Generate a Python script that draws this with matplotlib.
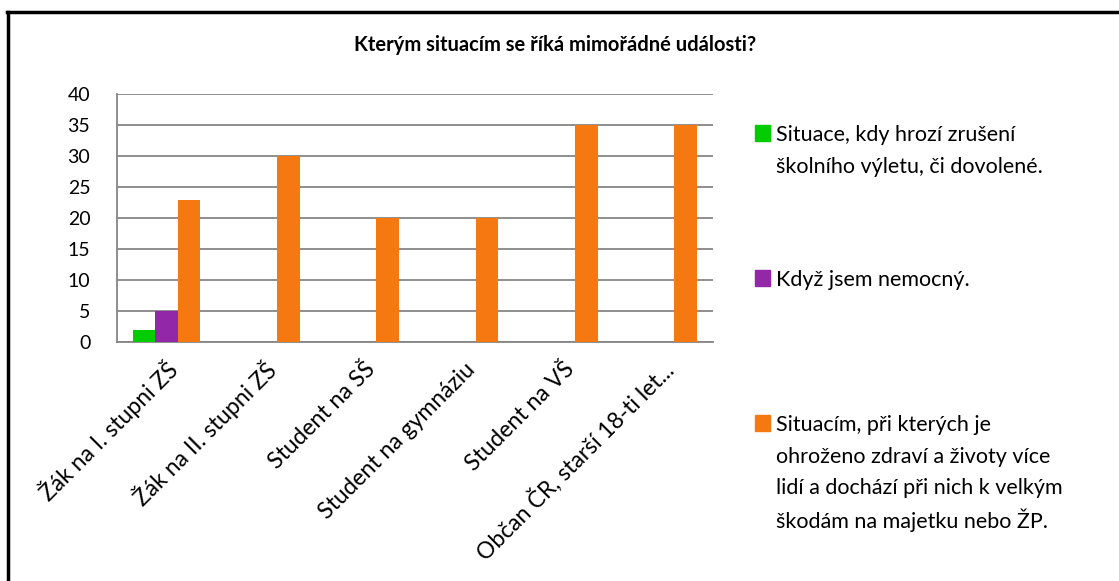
import matplotlib.pyplot as plt
from matplotlib.patches import Rectangle
from matplotlib.transforms import ScaledTranslation
import numpy as np

plt.rcParams['font.family'] = ['Lato', 'DejaVu Sans']

# data
categories = ['Žák na I. stupni ZŠ', 'Žák na II. stupni ZŠ', 'Student na SŠ',
              'Student na gymnáziu', 'Student na VŠ', 'Občan ČR, starší 18-ti let...']
series_names = [['Situace, kdy hrozí zrušení', 'školního výletu, či dovolené.'],
                ['Když jsem nemocný.'],
                ['Situacím, při kterých je', 'ohroženo zdraví a životy více',
                 'lidí a dochází při nich k velkým', 'škodám na majetku nebo ŽP.']]
green_vals = [2, 0, 0, 0, 0, 0]
purple_vals = [5, 0, 0, 0, 0, 0]
orange_vals = [23, 30, 20, 20, 35, 35]
colors = ['#00CC00', '#9228A8', '#F57811']

W, H = 1119, 581
fig = plt.figure(figsize=(W / 100, H / 100), dpi=100)
ax = fig.add_axes([0.1043, 0.4108, 0.5326, 0.4274])

x = np.arange(len(categories))
w = 0.227
for i, vals in enumerate([green_vals, purple_vals, orange_vals]):
    ax.bar(x + (i - 1) * w, vals, width=w, color=colors[i], zorder=3)

ax.set_xlim(-0.5, len(categories) - 0.5)
ax.set_ylim(0, 40)
ax.set_yticks(range(0, 41, 5))
ax.yaxis.grid(True, color='#868686', linewidth=1.3, zorder=0)
for s in ['top', 'right']:
    ax.spines[s].set_visible(False)
for s in ['left', 'bottom']:
    ax.spines[s].set_color('#868686')
    ax.spines[s].set_linewidth(1.3)
ax.tick_params(axis='both', length=0)
ax.tick_params(axis='y', pad=19, labelsize=14)
ax.set_xticks(x)
ax.set_xticklabels(categories, rotation=45, ha='right', va='center',
                   rotation_mode='anchor', fontsize=16.5)
ax.tick_params(axis='x', pad=12)
shift = ScaledTranslation(7 / 100, -7 / 100, fig.dpi_scale_trans)
for lab in ax.get_xticklabels():
    lab.set_transform(lab.get_transform() + shift)

fig.text(555 / W, 1 - 45 / H, 'Kterým situacím se říká mimořádné události?',
         ha='center', va='center', fontsize=14.5, fontweight='bold')

# legend drawn by hand to match the spacing
leg_y = [133, 278, 423]
line_step = 31.7
for c, lines, y in zip(colors, series_names, leg_y):
    fig.add_artist(Rectangle((755 / W, 1 - (y + 8) / H), 15 / W, 16 / H,
                             transform=fig.transFigure, color=c))
    for k, line in enumerate(lines):
        fig.text(776 / W, 1 - (y + k * line_step) / H, line, ha='left',
                 va='center_baseline', fontsize=15.5)

# outer border (left and top edges)
fig.add_artist(plt.Line2D([7.5 / W, 7.5 / W], [0, 1 - 11.5 / H],
                          transform=fig.transFigure, color='black', linewidth=2.5))
fig.add_artist(plt.Line2D([6.5 / W, 1], [1 - 11.5 / H, 1 - 11.5 / H],
                          transform=fig.transFigure, color='black', linewidth=2.5))

fig.savefig('out.png', dpi=100)
